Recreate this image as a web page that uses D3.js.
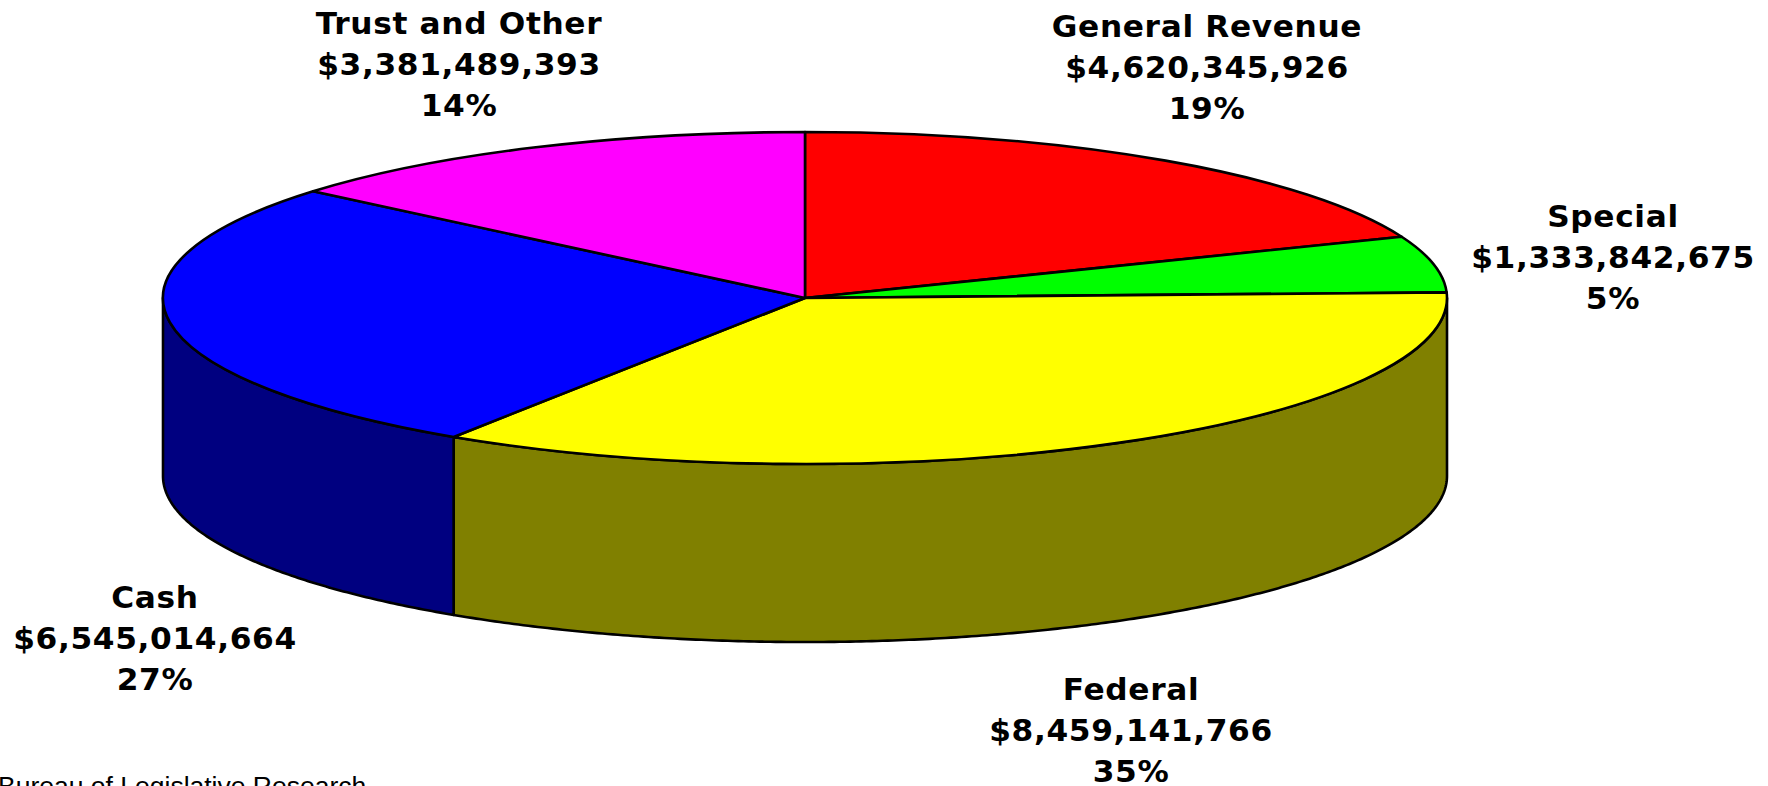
<!DOCTYPE html>
<html><head><meta charset="utf-8">
<script src="https://cdnjs.cloudflare.com/ajax/libs/d3/7.8.5/d3.min.js"></script>
<style>html,body{margin:0;padding:0;background:#fff;overflow:hidden}svg{display:block}
.lab{font-family:"DejaVu Sans",sans-serif;font-weight:700;font-size:29.5px;letter-spacing:.6px;fill:#000;text-anchor:middle}
.src{font-family:"Liberation Sans",Arial,sans-serif;font-size:26.5px;fill:#000}</style>
</head><body><svg id="c" width="1768" height="786"></svg>
<script>
const categories=["General Revenue","Special","Federal","Cash","Trust and Other"];
const amounts=[4620345926,1333842675,8459141766,6545014664,3381489393];
const amountLabels=["$4,620,345,926","$1,333,842,675","$8,459,141,766","$6,545,014,664","$3,381,489,393"];
const percents=["19%","5%","35%","27%","14%"];
const topColors=["#ff0000","#00ff00","#ffff00","#0000ff","#ff00ff"];
const sideColors=["#800000","#008000","#808000","#000080","#800080"];
const labelX=[1207,1613,1131,155,459];
const labelY=[37,227,700,608,34];
const cx=805,cy=298,rx=642,ry=166,depth=178;
const svg=d3.select("#c");
const pie=d3.pie().sort(null).value(d=>d)(amounts);
const px=a=>cx+rx*Math.sin(a), py=a=>cy-ry*Math.cos(a);
const line=d3.line().curve(d3.curveLinear);
const H=Math.PI/2, W=3*Math.PI/2;
pie.forEach((d,i)=>{
  const a0=Math.max(d.startAngle,H),a1=Math.min(d.endAngle,W);
  if(a1<=a0) return;
  const n=Math.ceil((a1-a0)*120);
  const ang=d3.range(n+1).map(k=>a0+(a1-a0)*k/n);
  const pts=ang.map(a=>[px(a),py(a)]).concat(ang.slice().reverse().map(a=>[px(a),py(a)+depth]));
  svg.append("path").attr("d",line(pts)+"Z").attr("fill",sideColors[i]).attr("stroke","#000").attr("stroke-width",2.6).attr("stroke-linejoin","round");
});
const arc=d3.arc().innerRadius(0).outerRadius(rx);
svg.append("g").attr("transform",`translate(${cx},${cy}) scale(1,${ry/rx})`)
 .selectAll("path").data(pie).join("path").attr("d",arc)
 .attr("fill",(d,i)=>topColors[i]).attr("stroke","#000").attr("stroke-width",2.6)
 .attr("stroke-linejoin","round").attr("vector-effect","non-scaling-stroke");
categories.forEach((c,i)=>{
  [c,amountLabels[i],percents[i]].forEach((t,k)=>{
    svg.append("text").attr("class","lab")
      .attr("transform",`translate(${labelX[i]},${labelY[i]+k*41}) scale(1.06,1)`).text(t);
  });
});
svg.append("text").attr("class","src").attr("x",-2).attr("y",795).text("Bureau of Legislative Research");
</script></body></html>
